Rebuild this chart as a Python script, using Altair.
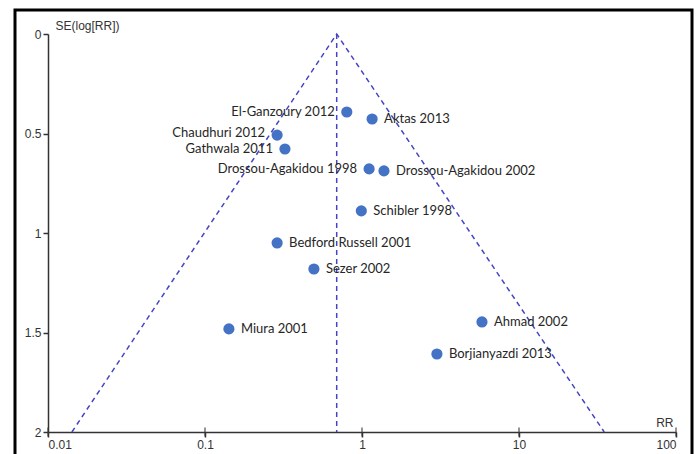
import altair as alt
import pandas as pd

# Studies: relative risk and standard error of log(RR)
studies = [
    "El-Ganzoury 2012", "Aktas 2013", "Chaudhuri 2012", "Gathwala 2011",
    "Drossou-Agakidou 1998", "Drossou-Agakidou 2002", "Schibler 1998",
    "Bedford Russell 2001", "Sezer 2002", "Miura 2001", "Ahmad 2002",
    "Borjianyazdi 2013",
]
rr = [0.80, 1.16, 0.288, 0.323, 1.11, 1.38, 0.99, 0.288, 0.494, 0.142, 5.81, 3.0]
se = [0.392, 0.427, 0.508, 0.578, 0.678, 0.688, 0.889, 1.050, 1.181, 1.482, 1.447, 1.608]
label_side = ["left", "right", "up-left", "left", "left", "right", "right",
              "right", "right", "right", "right", "right"]

# Funnel outline (pseudo 95% limits) and pooled estimate
funnel_rr = [0.0142, 0.69, 34.9]
funnel_se = [2.0, 0.0, 2.0]
pooled_rr = [0.69, 0.69]
pooled_se = [0.0, 2.0]

x_ticks = [0.01, 0.1, 1, 10, 100]
y_ticks = [0, 0.5, 1, 1.5, 2]

pts = pd.DataFrame({"study": studies, "rr": rr, "se": se, "side": label_side})
funnel = pd.DataFrame({"rr": funnel_rr, "se": funnel_se, "order": [0, 1, 2]})
pooled = pd.DataFrame({"rr": pooled_rr, "se": pooled_se})
xt = pd.DataFrame({"rr": x_ticks})

x_scale = alt.Scale(type="log", domain=[0.01, 100], nice=False)
y_scale = alt.Scale(domain=[0, 2], reverse=True, nice=False)

x_enc = alt.X("rr:Q", scale=x_scale, axis=alt.Axis(
    values=x_ticks, format="~g", title="RR", titleAngle=0,
    titleX=625, titleY=-10, titleAlign="right", titleBaseline="middle"))
y_enc = alt.Y("se:Q", scale=y_scale, axis=alt.Axis(
    values=y_ticks, format="~g", title="SE(log[RR])", titleAngle=0,
    titleX=7, titleY=-9, titleAlign="left", titleBaseline="middle"))

line_color = "#4545c4"

funnel_lines = alt.Chart(funnel).mark_line(
    color=line_color, strokeDash=[5, 4], strokeWidth=1.5
).encode(x=x_enc, y=y_enc, order="order:Q")

pooled_line = alt.Chart(pooled).mark_line(
    color=line_color, strokeDash=[5, 4], strokeWidth=1.5
).encode(x="rr:Q", y="se:Q")

# x-axis ticks crossing the axis line
cross_ticks = alt.Chart(xt).mark_tick(
    orient="vertical", size=9, thickness=1.5, color="#333333"
).encode(x="rr:Q", y=alt.value(398))

points = alt.Chart(pts).mark_circle(
    size=125, color="#4472c4", opacity=1
).encode(x="rr:Q", y="se:Q")

label_style = dict(font="Lato", fontSize=13, color="#262626", baseline="middle")
labels_right = alt.Chart(pts).transform_filter(alt.datum.side == "right").mark_text(
    align="left", dx=12, **label_style
).encode(x="rr:Q", y="se:Q", text="study:N")
labels_left = alt.Chart(pts).transform_filter(alt.datum.side == "left").mark_text(
    align="right", dx=-12, **label_style
).encode(x="rr:Q", y="se:Q", text="study:N")
labels_up_left = alt.Chart(pts).transform_filter(alt.datum.side == "up-left").mark_text(
    align="right", dx=-12, dy=-2, **label_style
).encode(x="rr:Q", y="se:Q", text="study:N")

# Outer frame around the whole figure
frame = alt.Chart(pd.DataFrame({"k": [0]})).mark_rect(
    fill=None, stroke="black", strokeWidth=3
).encode(x=alt.value(-33), x2=alt.value(644), y=alt.value(-24), y2=alt.value(440))

chart = alt.layer(
    funnel_lines, pooled_line, cross_ticks, points,
    labels_right, labels_left, labels_up_left, frame
).properties(
    width=628, height=398,
    padding={"left": 48, "top": 34, "right": 23, "bottom": 22},
    autosize=alt.AutoSizeParams(type="none"),
    background="white",
).configure_view(stroke=None).configure_axis(
    grid=False, domainColor="#333333", domainWidth=1.5,
    tickColor="#333333", tickWidth=1.5, tickSize=5,
    labelFont="Liberation Sans", labelFontSize=12, labelColor="#333333",
    titleFont="Liberation Sans", titleFontSize=12, titleColor="#333333",
    titleFontWeight="normal", labelPadding=2,
)

chart.save("out.html", embed_options={"renderer": "svg", "actions": False})
